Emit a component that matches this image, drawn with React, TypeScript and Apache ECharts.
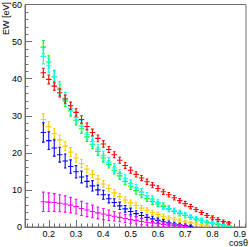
import React, { useEffect, useRef } from "react";
import * as echarts from "echarts";

const cosTheta = [0.18, 0.2, 0.22, 0.24, 0.26, 0.28, 0.3, 0.32, 0.34, 0.36, 0.38, 0.4, 0.42, 0.44, 0.46, 0.48, 0.5, 0.52, 0.54, 0.56, 0.58, 0.6, 0.62, 0.64, 0.66, 0.68, 0.7, 0.72, 0.74, 0.76, 0.78, 0.8, 0.82, 0.84, 0.86];

const redEW = [41.6, 39.8, 38.0, 36.2, 34.5, 32.7, 30.9, 29.0, 27.1, 25.5, 23.9, 22.4, 20.9, 19.5, 18.0, 16.6, 15.3, 14.2, 13.2, 12.2, 11.3, 10.4, 9.5, 8.7, 7.9, 7.1, 6.3, 5.5, 4.7, 3.9, 3.1, 2.5, 2.0, 1.5, 1.1];
const redErr = [1.2, 1.2, 1.1, 1.1, 1.1, 1.0, 1.0, 1.0, 0.9, 0.9, 0.9, 0.9, 0.8, 0.8, 0.8, 0.8, 0.8, 0.7, 0.7, 0.7, 0.7, 0.7, 0.7, 0.6, 0.6, 0.6, 0.6, 0.6, 0.5, 0.5, 0.5, 0.5, 0.5, 0.4, 0.4];

const greenEW = [48.5, 44.5, 40.5, 37.0, 34.0, 31.3, 28.8, 26.5, 24.3, 22.3, 20.4, 18.6, 16.9, 15.3, 13.8, 12.3, 11.0, 9.8, 8.7, 7.7, 6.9, 6.2, 5.5, 4.8, 4.2, 3.6, 3.1, 2.6, 2.1, 1.7, 1.3, 1.0, 0.7, 0.5, 0.3];
const greenErr = [1.8, 1.7, 1.6, 1.5, 1.5, 1.4, 1.3, 1.3, 1.2, 1.2, 1.1, 1.1, 1.0, 1.0, 1.0, 0.9, 0.9, 0.9, 0.8, 0.8, 0.8, 0.7, 0.7, 0.7, 0.6, 0.6, 0.6, 0.5, 0.5, 0.5, 0.4, 0.4, 0.4, 0.3, 0.3];

const cyanEW = [46.0, 43.5, 40.5, 37.5, 34.7, 32.0, 29.5, 27.2, 25.0, 23.0, 21.0, 19.2, 17.5, 15.9, 14.4, 13.0, 11.7, 10.5, 9.4, 8.4, 7.5, 6.6, 5.8, 5.0, 4.4, 3.8, 3.2, 2.7, 2.2, 1.8, 1.4, 1.1, 0.8, 0.6, 0.4];
const cyanErr = [2.0, 1.9, 1.8, 1.7, 1.6, 1.6, 1.5, 1.5, 1.4, 1.4, 1.3, 1.3, 1.2, 1.2, 1.1, 1.1, 1.0, 1.0, 1.0, 0.9, 0.9, 0.9, 0.8, 0.8, 0.7, 0.7, 0.7, 0.6, 0.6, 0.6, 0.5, 0.5, 0.4, 0.4, 0.3];

const yellowEW = [29.0, 27.0, 25.2, 23.5, 21.8, 20.2, 18.6, 17.1, 15.6, 14.2, 12.9, 11.6, 10.4, 9.2, 8.2, 7.3, 6.5, 5.8, 5.1, 4.5, 3.9, 3.4, 2.9, 2.5, 2.1, 1.7, 1.4, 1.1, 0.8, 0.6, 0.4];
const yellowErr = [1.5, 1.4, 1.3, 1.3, 1.2, 1.2, 1.1, 1.1, 1.0, 1.0, 1.0, 0.9, 0.9, 0.9, 0.8, 0.8, 0.8, 0.7, 0.7, 0.7, 0.6, 0.6, 0.6, 0.5, 0.5, 0.5, 0.4, 0.4, 0.4, 0.3, 0.3];

const blueEW = [25.5, 23.3, 21.3, 19.5, 17.8, 16.3, 14.9, 13.5, 12.3, 11.1, 10.0, 8.7, 7.6, 6.6, 5.7, 4.9, 4.2, 3.6, 3.1, 2.6, 2.2, 1.8, 1.4, 1.1, 0.8, 0.6, 0.4, 0.2];
const blueErr = [2.6, 2.4, 2.2, 2.0, 1.9, 1.8, 1.7, 1.6, 1.5, 1.4, 1.3, 1.2, 1.1, 1.0, 1.0, 0.9, 0.9, 0.8, 0.8, 0.7, 0.7, 0.6, 0.6, 0.5, 0.5, 0.4, 0.4, 0.3];

const magentaEW = [6.8, 6.7, 6.6, 6.4, 6.2, 5.9, 5.5, 5.0, 4.6, 4.2, 3.8, 3.5, 3.2, 2.9, 2.6, 2.3, 2.0, 1.8, 1.5, 1.3, 1.1, 0.9, 0.7, 0.5, 0.4, 0.3, 0.2];
const magentaErr = [2.6, 2.5, 2.4, 2.3, 2.2, 2.1, 2.0, 1.9, 1.8, 1.7, 1.6, 1.5, 1.4, 1.3, 1.2, 1.1, 1.0, 1.0, 0.9, 0.8, 0.8, 0.7, 0.6, 0.6, 0.5, 0.4, 0.4];

const xTickLabels = ["0.2", "0.3", "0.4", "0.5", "0.6", "0.7", "0.8", "0.9"];
const xMinorTicks = [0.12, 0.14, 0.16, 0.18, 0.22, 0.24, 0.26, 0.28, 0.32, 0.34, 0.36, 0.38, 0.42, 0.44, 0.46, 0.48, 0.52, 0.54, 0.56, 0.58, 0.62, 0.64, 0.66, 0.68, 0.72, 0.74, 0.76, 0.78, 0.82, 0.84, 0.86, 0.88, 0.92];

const X_MIN = 0.1128;
const X_MAX = 0.9229;
const HALF_BIN = 0.01;
const FONT = "Liberation Sans, Arial, sans-serif";
const AXIS_COLOR = "#707070";

function makeSeries(name: string, color: string, ew: number[], err: number[]) {
  return {
    type: "custom",
    name,
    xAxisIndex: 0,
    yAxisIndex: 0,
    clip: true,
    data: ew.map((v, i) => [cosTheta[i], v, err[i]]),
    renderItem: (params: any, api: any) => {
      const x = api.value(0);
      const y = api.value(1);
      const e = api.value(2);
      const c = api.coord([x, y]);
      const t = api.coord([x, y + e]);
      const b = api.coord([x, Math.max(0, y - e)]);
      const l = api.coord([x - HALF_BIN, y]);
      const r = api.coord([x + HALF_BIN, y]);
      const style = { stroke: color, lineWidth: 1.1 };
      const cap = 1.3;
      return {
        type: "group",
        children: [
          { type: "line", shape: { x1: c[0], y1: t[1], x2: c[0], y2: b[1] }, style },
          { type: "line", shape: { x1: l[0], y1: c[1], x2: r[0], y2: c[1] }, style },
          { type: "line", shape: { x1: c[0] - cap, y1: t[1], x2: c[0] + cap, y2: t[1] }, style },
          { type: "line", shape: { x1: c[0] - cap, y1: b[1], x2: c[0] + cap, y2: b[1] }, style },
        ],
      };
    },
  };
}

export default function App() {
  const ref = useRef<HTMLDivElement>(null);
  useEffect(() => {
    if (!ref.current) return;
    const chart = echarts.init(ref.current, null, { renderer: "svg" });
    const majorVals = xTickLabels.map((s) => parseFloat(s));
    chart.setOption({
      animation: false,
      backgroundColor: "#ffffff",
      grid: {
        left: 25,
        right: 1,
        top: 2,
        bottom: 20,
        show: true,
        borderColor: AXIS_COLOR,
        borderWidth: 1,
        backgroundColor: "transparent",
      },
      xAxis: [
        {
          type: "value",
          min: X_MIN,
          max: X_MAX,
          axisLine: { show: true, lineStyle: { color: AXIS_COLOR } },
          splitLine: { show: false },
          axisTick: {
            show: true,
            inside: true,
            length: 7,
            customValues: majorVals,
            lineStyle: { color: AXIS_COLOR },
          },
          axisLabel: {
            show: true,
            customValues: majorVals,
            formatter: (v: number) => v.toFixed(1),
            fontSize: 9,
            fontFamily: FONT,
            color: "#000",
            margin: 2,
          },
        },
        {
          type: "value",
          min: X_MIN,
          max: X_MAX,
          position: "bottom",
          axisLine: { show: false },
          splitLine: { show: false },
          axisTick: {
            show: true,
            inside: true,
            length: 3.5,
            customValues: xMinorTicks,
            lineStyle: { color: AXIS_COLOR },
          },
          axisLabel: { show: false },
        },
      ],
      yAxis: {
        type: "value",
        min: 0,
        max: 60,
        interval: 10,
        axisLine: { show: true, lineStyle: { color: AXIS_COLOR } },
        splitLine: { show: false },
        axisTick: { show: true, inside: true, length: 7, lineStyle: { color: AXIS_COLOR } },
        minorTick: { show: true, splitNumber: 5, length: 3.5, lineStyle: { color: AXIS_COLOR } },
        axisLabel: { fontSize: 9, fontFamily: FONT, color: "#000", margin: 3 },
      },
      graphic: [
        {
          type: "text",
          x: 1,
          y: 2,
          rotation: Math.PI / 2,
          style: {
            text: "EW [eV]",
            align: "right",
            verticalAlign: "top",
            fontSize: 9,
            fontFamily: FONT,
            fill: "#000",
          },
        },
        {
          type: "text",
          x: 248,
          y: 238.5,
          style: {
            text: "cosθ",
            align: "right",
            verticalAlign: "top",
            fontSize: 9,
            fontFamily: FONT,
            fill: "#000",
          },
        },
      ],
      series: [
        makeSeries("yellow", "#ffcc00", yellowEW, yellowErr),
        makeSeries("blue", "#0000ff", blueEW, blueErr),
        makeSeries("magenta", "#ff00ff", magentaEW, magentaErr),
        makeSeries("green", "#00ff00", greenEW, greenErr),
        makeSeries("cyan", "#00ffff", cyanEW, cyanErr),
        makeSeries("red", "#ff0000", redEW, redErr),
      ],
    });
    return () => chart.dispose();
  }, []);
  return (
    <div
      ref={ref}
      style={{ position: "absolute", left: 0, top: 0, width: 249, height: 247 }}
    />
  );
}
